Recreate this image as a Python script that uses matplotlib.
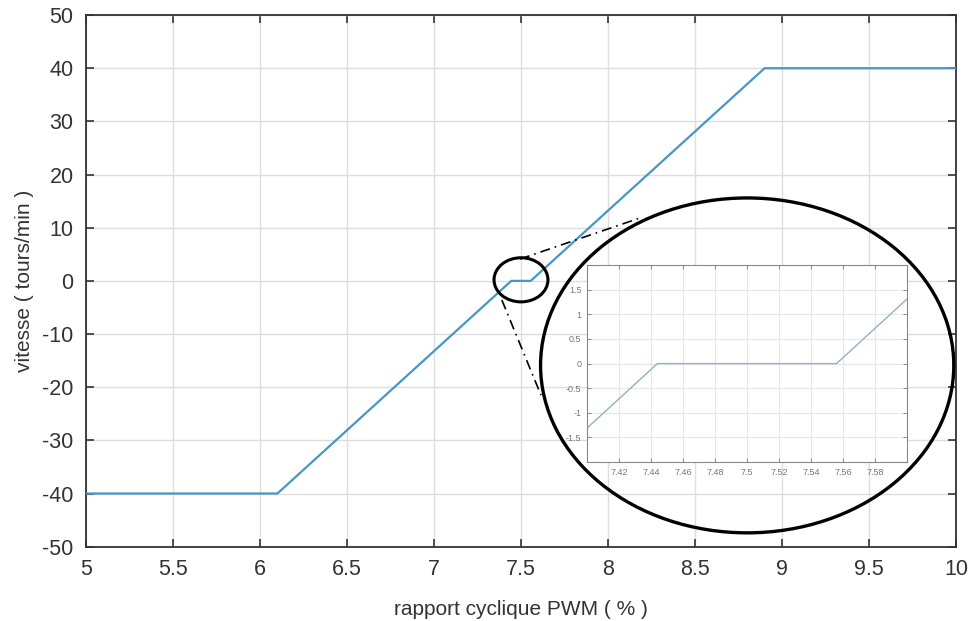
import numpy as np
import matplotlib
matplotlib.use("Agg")
import matplotlib.pyplot as plt
from matplotlib.patches import Ellipse

plt.rcParams['font.family'] = ['Liberation Sans', 'DejaVu Sans']
plt.rcParams['axes.unicode_minus'] = False

# breakpoints of the speed curve
pwm = [5.0, 6.1, 7.444, 7.556, 8.9, 10.0]
vitesse = [-40, -40, 0, 0, 40, 40]

# zoomed window
zoom_x = [7.40, 7.60]
zoom_y = [-2, 2]
inset_xticks = [7.42, 7.44, 7.46, 7.48, 7.5, 7.52, 7.54, 7.56, 7.58]
inset_xlabels = ['7.42', '7.44', '7.46', '7.48', '7.5', '7.52', '7.54', '7.56', '7.58']
inset_yticks = [-1.5, -1, -0.5, 0, 0.5, 1, 1.5]
inset_ylabels = ['-1.5', '-1', '-0.5', '0', '0.5', '1', '1.5']

xticks = [5, 5.5, 6, 6.5, 7, 7.5, 8, 8.5, 9, 9.5, 10]
yticks = [-50, -40, -30, -20, -10, 0, 10, 20, 30, 40, 50]

# connector lines (data coords of the main axes)
conn1_x = [7.494, 8.19]
conn1_y = [4.1, 11.9]
conn2_x = [7.39, 7.615]
conn2_y = [-3.6, -21.5]

fig = plt.figure(figsize=(9.72, 6.21), dpi=100)
ax = fig.add_axes([0.0885, 0.1197, 0.895, 0.856])

ax.plot(pwm, vitesse, color='#4896c6', lw=1.6, zorder=3)
ax.set_xlim(5, 10)
ax.set_ylim(-50, 50)
ax.set_xticks(xticks)
ax.set_xticklabels([('%g' % t) for t in xticks])
ax.set_yticks(yticks)
ax.grid(True, color='#dddddd', lw=1.0)
ax.set_axisbelow(True)
ax.tick_params(direction='in', top=True, right=True, length=6, width=1.2,
               labelsize=15.5, colors='#333333', pad=9)
for s in ax.spines.values():
    s.set_color('#333333')
    s.set_linewidth(1.3)
ax.set_xlabel('rapport cyclique PWM ( % )', fontsize=15, color='#333333', labelpad=14)
ax.set_ylabel('vitesse ( tours/min )', fontsize=15, color='#333333', labelpad=6)

# small ellipse around the dead zone
ax.add_patch(Ellipse((7.5, 0.2), 0.31, 8.3, fill=False, ec='black', lw=2.2, zorder=5))
# big ellipse holding the zoom
ax.add_patch(Ellipse((0.760, 0.341), 0.475, 0.630, transform=ax.transAxes,
                     fill=False, ec='black', lw=2.4, zorder=5, clip_on=False))
ax.plot(conn1_x, conn1_y, color='black', lw=1.2, ls=(0, (6, 3, 1, 3)), zorder=5)
ax.plot(conn2_x, conn2_y, color='black', lw=1.2, ls=(0, (6, 3, 1, 3)), zorder=5)

# inset
axi = fig.add_axes([0.604, 0.256, 0.329, 0.317])
axi.plot(pwm, vitesse, color='#8fb2c4', lw=1.0)
axi.set_xlim(*zoom_x)
axi.set_ylim(*zoom_y)
axi.set_xticks(inset_xticks)
axi.set_xticklabels(inset_xlabels)
axi.set_yticks(inset_yticks)
axi.set_yticklabels(inset_ylabels)
axi.grid(True, color='#e6e6e6', lw=0.8)
axi.set_axisbelow(True)
axi.tick_params(direction='in', top=True, right=True, length=3, width=0.6,
                labelsize=6.5, colors='#777777', pad=4)
for s in axi.spines.values():
    s.set_color('#888888')
    s.set_linewidth(0.8)

fig.savefig('out.png', dpi=100)
